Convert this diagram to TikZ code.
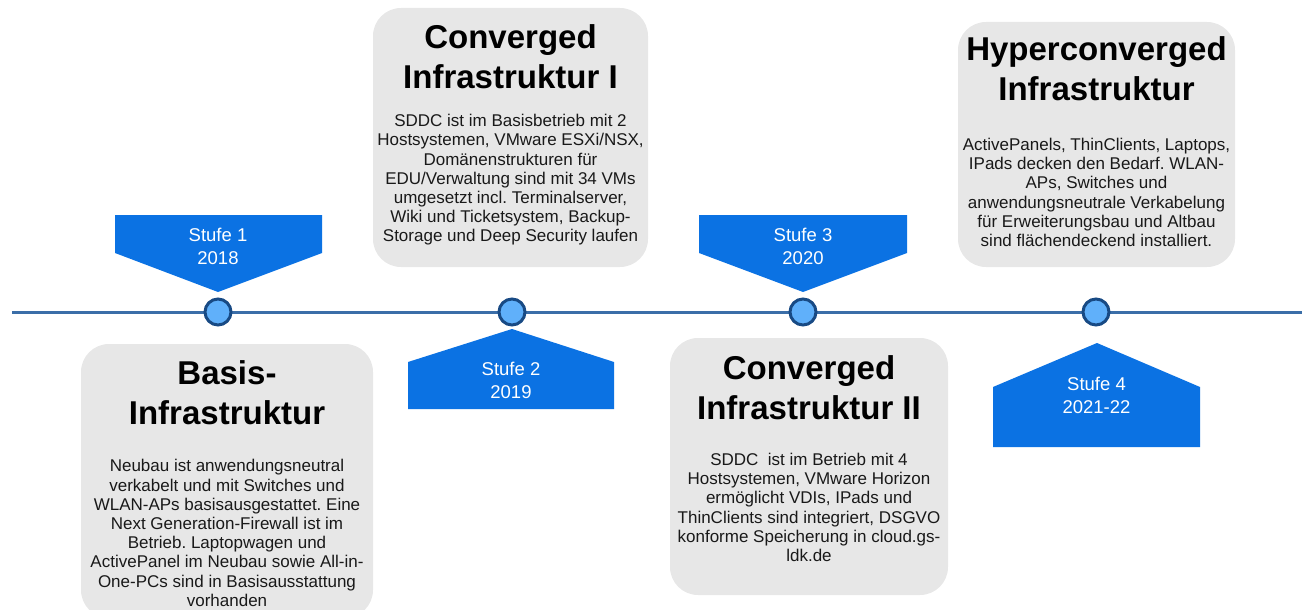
\documentclass[tikz,border=0pt]{standalone}
\usepackage{fontspec}
\setmainfont{Liberation Sans}
\frenchspacing
\definecolor{boxgray}{RGB}{231,231,231}
\definecolor{stufeblue}{RGB}{11,114,227}
\definecolor{lineblue}{RGB}{59,110,168}
\definecolor{dotfill}{RGB}{96,176,250}
\definecolor{dotrim}{RGB}{24,74,132}
\definecolor{bodytext}{RGB}{25,25,25}
\begin{document}
\begin{tikzpicture}[x=1pt,y=-1pt,
  infobox/.style={fill=boxgray, rounded corners=28pt, inner sep=0pt},
  titletext/.style={font=\fontsize{33}{40}\selectfont\bfseries, align=center, inner sep=0pt, text=black},
  bodytxt/.style={font=\fontsize{17}{19.2}\selectfont, align=center, inner sep=0pt, text=bodytext},
  stufeshape/.style={fill=stufeblue},
  stufetext/.style={font=\fontsize{18.5}{23}\selectfont, align=center, inner sep=0pt, text=white},
  dot/.style={circle, fill=dotfill, draw=dotrim, line width=3pt, minimum size=26pt, inner sep=0pt},
  timeline/.style={draw=lineblue, line width=3pt}
]
\useasboundingbox (0,0) rectangle (1302,610);
\clip (0,0) rectangle (1302,610);

% timeline and milestone dots
\coordinate (tlstart) at (12,312);
\coordinate (tlend) at (1302,312);
\draw[timeline] (tlstart) -- (tlend);
\node[dot] (d1) at (218,312) {};
\node[dot] (d2) at (512,312) {};
\node[dot] (d3) at (803,312) {};
\node[dot] (d4) at (1096,312) {};

% stage markers
\fill[stufeshape] (115,215) -- (322,215) -- (322,253) -- (218,292) -- (115,253) -- cycle;
\node[stufetext] (s1) at (218,246.5) {Stufe 1\\2018};
\fill[stufeshape] (408,409) -- (614,409) -- (614,362) -- (512,329) -- (408,362) -- cycle;
\node[stufetext] (s2) at (511,380) {Stufe 2\\2019};
\fill[stufeshape] (699,215) -- (907,215) -- (907,253) -- (803,292) -- (699,253) -- cycle;
\node[stufetext] (s3) at (803,246.5) {Stufe 3\\2020};
\fill[stufeshape] (993,447) -- (1200,447) -- (1200,387) -- (1097,343) -- (993,387) -- cycle;
\node[stufetext] (s4) at (1096.5,395) {Stufe 4\\2021-22};

% description boxes
\node[infobox, minimum width=292pt, minimum height=274pt] (b1) at (227,481) {};
\node[titletext] (t1) at (227,392.5) {Basis-\\Infrastruktur};
\node[bodytxt] (x1) at (227,533) {Neubau ist anwendungsneutral\\verkabelt und mit Switches und\\WLAN-APs basisausgestattet. Eine\\Next Generation-Firewall ist im\\Betrieb. Laptopwagen und\\ActivePanel im Neubau sowie All-in-\\One-PCs sind in Basisausstattung\\vorhanden};

\node[infobox, minimum width=275pt, minimum height=259pt] (b2) at (510.5,137.5) {};
\node[titletext] (t2) at (510.5,56.5) {Converged\\Infrastruktur I};
\node[bodytxt] (x2) at (510.5,180) {SDDC ist im Basisbetrieb mit 2\\Hostsystemen, VMware ESXi/NSX,\\Domänenstrukturen für\\EDU/Verwaltung sind mit 34 VMs\\umgesetzt incl. Terminalserver,\\Wiki und Ticketsystem, Backup-\\Storage und Deep Security laufen};

\node[infobox, minimum width=278pt, minimum height=257pt] (b3) at (809,466.5) {};
\node[titletext] (t3) at (809,387.5) {Converged\\Infrastruktur II};
\node[bodytxt] (x3) at (809,507.5) {SDDC\ \ ist im Betrieb mit 4\\Hostsystemen, VMware Horizon\\ermöglicht VDIs, IPads und\\ThinClients sind integriert, DSGVO\\konforme Speicherung in cloud.gs-\\ldk.de};

\node[infobox, minimum width=277pt, minimum height=245pt] (b4) at (1096.5,144.5) {};
\node[titletext] (t4) at (1096.5,69) {Hyperconverged\\Infrastruktur};
\node[bodytxt] (x4) at (1096.5,192.5) {ActivePanels, ThinClients, Laptops,\\IPads decken den Bedarf. WLAN-\\APs, Switches und\\anwendungsneutrale Verkabelung\\für Erweiterungsbau und Altbau\\sind flächendeckend installiert.};
\end{tikzpicture}
\end{document}
